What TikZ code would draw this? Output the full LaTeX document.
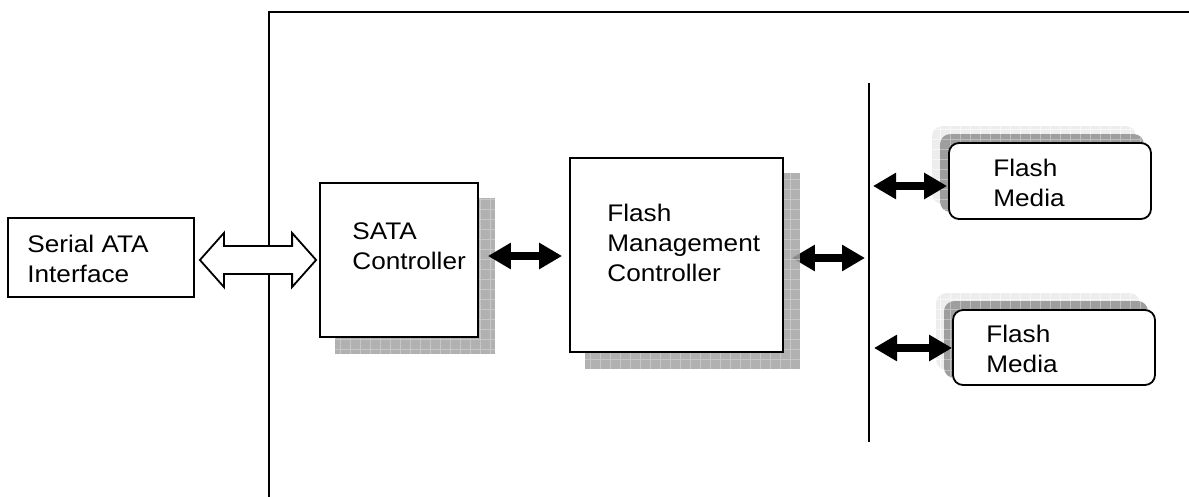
\documentclass[tikz,border=0pt]{standalone}
\usepackage{fontspec}
\setmainfont{Liberation Sans}
\newfontfamily\widesans[FakeStretch=1.09]{Liberation Sans}
\usetikzlibrary{arrows.meta,calc}
\pgfdeclarelayer{under}
\pgfdeclarelayer{shade}
\pgfsetlayers{under,shade,main}
\newcommand\myshade[5]{%
  \begin{scope}
    \clip[rounded corners=#5] #3 rectangle #4;
    \fill[#1] #3 rectangle #4;
    \draw[#2, line width=0.5pt, step=5pt] #3 grid #4;
  \end{scope}}
\begin{document}
\begin{tikzpicture}[x=0.5pt,y=-0.5pt,
  box/.style={draw, line width=0.9pt, fill=white, rectangle, inner sep=0pt},
  txt/.style={anchor=north west, align=left, inner sep=0pt, font=\widesans\fontsize{12}{15}\selectfont},
  blockarr/.style={line width=4pt, {Triangle[length=11.5pt,width=12.5pt]}-{Triangle[length=11.5pt,width=12.5pt]}},
  framel/.style={line width=1pt},
  hollow/.style={draw, line width=0.9pt, fill=white, line join=miter}
]
\useasboundingbox (0,0) rectangle (1189,497);

% outer frame
\coordinate (fr1) at (1189,12);
\coordinate (fr2) at (269,497);
\draw[framel] (fr1) -| (fr2);

% boxes
\node[box, minimum width=93pt, minimum height=39.5pt] (serial) at (101,257.5) {};
\node[box, minimum width=79pt, minimum height=77pt] (sata) at (399,260) {};
\node[box, minimum width=106.5pt, minimum height=97pt] (fmc) at (676.5,255) {};
\node[box, rounded corners=5pt, minimum width=101pt, minimum height=38pt] (fm1) at (1050,181) {};
\node[box, rounded corners=5pt, minimum width=101pt, minimum height=37.5pt] (fm2) at (1054,347.5) {};

% shadows
\begin{pgfonlayer}{shade}
  \begin{scope}[opacity=0.85]
  \myshade{black!36}{black!20}{([shift={(16,16)}]sata.north west)}{([shift={(16,16)}]sata.south east)}{0pt}
  \myshade{black!36}{black!20}{([shift={(16,16)}]fmc.north west)}{([shift={(16,16)}]fmc.south east)}{0pt}
  \end{scope}
  \myshade{black!7}{black!3}{([shift={(-16,-16)}]fm1.north west)}{([shift={(-16,-16)}]fm1.south east)}{5pt}
  \myshade{black!38}{black!25}{([shift={(-8,-8)}]fm1.north west)}{([shift={(-8,-8)}]fm1.south east)}{5pt}
  \myshade{black!7}{black!3}{([shift={(-16,-16)}]fm2.north west)}{([shift={(-16,-16)}]fm2.south east)}{5pt}
  \myshade{black!38}{black!25}{([shift={(-8,-8)}]fm2.north west)}{([shift={(-8,-8)}]fm2.south east)}{5pt}
\end{pgfonlayer}

% hollow double arrow between interface and SATA controller
\coordinate (hl) at ([shift={(5,2.5)}]serial.east);
\coordinate (hr) at ([shift={(-3,0)}]sata.west);
\draw[hollow] (hl) -- ++(24,-27) -- ++(0,13) -- ($(hr)+(-24,-14)$) -- ++(0,-13)
  -- (hr) -- ++(-24,27) -- ++(0,-13) -- ($(hl)+(24,14)$) -- ++(0,13) -- cycle;
\node[box, minimum width=93pt, minimum height=39.5pt] at (serial) {};

% bus line
\coordinate (bt) at (869,83);
\coordinate (bb) at (869,442);
\draw[line width=0.9pt] (bt) -- (bb);

% black double arrows
\draw[blockarr] ([shift={(9,-4)}]sata.east) -- ([shift={(-7,1)}]fmc.west);
\coordinate (a2s) at ([shift={(8,3)}]fmc.east);
\begin{pgfonlayer}{under}
  \draw[blockarr] (a2s) -- ($(a2s -| bt)+(-4,0)$);
\end{pgfonlayer}
\draw[blockarr] ($(bt |- fm1.west)+(4,5)$) -- ([shift={(-1,5)}]fm1.west);
\draw[blockarr] ($(bt |- fm2.west)+(5,0.5)$) -- ([shift={(0,0.5)}]fm2.west);

% texts
\node[txt] (t1) at (27,235) {Serial ATA\\Interface};
\node[txt] (t2) at (352,222) {SATA\\Controller};
\node[txt] (t3) at (607,204) {Flash\\Management\\Controller};
\node[txt] (t4) at (993,159) {Flash\\Media};
\node[txt] (t5) at (986,325) {Flash\\Media};
\end{tikzpicture}
\end{document}
